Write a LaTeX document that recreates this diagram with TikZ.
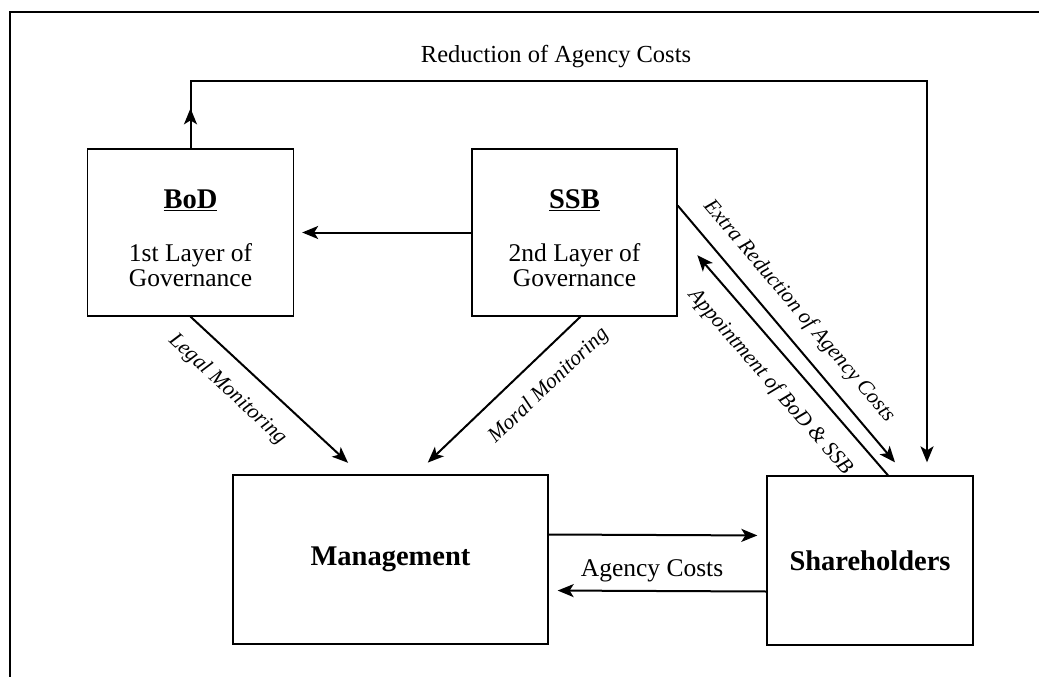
\documentclass[tikz,border=0pt]{standalone}
\usepackage{fontspec}
\setmainfont{Liberation Serif}
\usetikzlibrary{arrows.meta,positioning,calc}

\begin{document}
\begin{tikzpicture}[x=1pt,y=-1pt,
  box/.style={shape=rectangle,draw=black,line width=1.3pt,align=center,font=\fontsize{25.5}{25}\selectfont},
  head/.style={font=\fontsize{28.5}{30}\selectfont\bfseries},
  arr/.style={line width=2pt,-{Stealth[length=16pt,width=13pt,inset=4pt]}},
  lbl/.style={font=\fontsize{21.5}{24}\selectfont\itshape,sloped}]
\useasboundingbox (0,0) rectangle (1039,677);
\draw[line width=2.5pt] (10,677) -- (10,12) -- (1039,12);

\node[box,minimum width=206pt,minimum height=167pt] (bod) at (190.5,232.5) {\rule{0pt}{30pt}{\bfseries\fontsize{28.5}{30}\selectfont\underline{BoD}}\\[28pt]1st Layer of\\Governance};
\node[box,minimum width=205pt,minimum height=167pt] (ssb) at (574.5,232.5) {\rule{0pt}{30pt}{\bfseries\fontsize{28.5}{30}\selectfont\underline{SSB}}\\[28pt]2nd Layer of\\Governance};
\node[box,head,minimum width=315pt,minimum height=169pt] (mgmt) at (390.5,559.5) {Management};
\node[box,head,minimum width=206pt,minimum height=169pt] (sh) at (870,560.5) {Shareholders};
\node[font=\fontsize{24.5}{26}\selectfont] (red) at (556,57) {Reduction of Agency Costs};

\draw[arr] (bod.north) -- ++(0,-40);
\draw[arr,shorten >=13pt] (bod.north) -- ++(0,-67) -| ([xshift=57pt]sh.north);
\draw[arr,shorten >=8pt] (ssb) -- (bod);
\draw[arr,shorten >=17pt] (bod.south) -- ([xshift=-30pt]mgmt.north) node[lbl,below=14pt,pos=0.33] {Legal Monitoring};
\draw[arr,shorten >=17pt] ([xshift=6pt]ssb.south) -- ([xshift=25pt]mgmt.north) node[lbl,below=14pt,pos=0.31] {Moral Monitoring};
\draw[arr,shorten >=17pt] ([yshift=27pt]ssb.east) -- ([xshift=36pt]sh.north) node[lbl,above=10pt,pos=0.45] {Extra Reduction of Agency Costs};
\draw[arr,shorten >=30pt] ([xshift=18pt]sh.north) -- (ssb.east) node[lbl,below=14pt,pos=0.46] {Appointment of BoD \& SSB};
\draw[arr,shorten >=9pt] ([yshift=25pt]mgmt.east) -- ([yshift=25pt]sh.west);
\draw[arr,shorten >=9pt] ([yshift=-31pt]sh.west) -- ([yshift=-31pt]mgmt.east) node[font=\fontsize{25.5}{27}\selectfont,above=5pt,pos=0.525] {Agency Costs};
\end{tikzpicture}
\end{document}
